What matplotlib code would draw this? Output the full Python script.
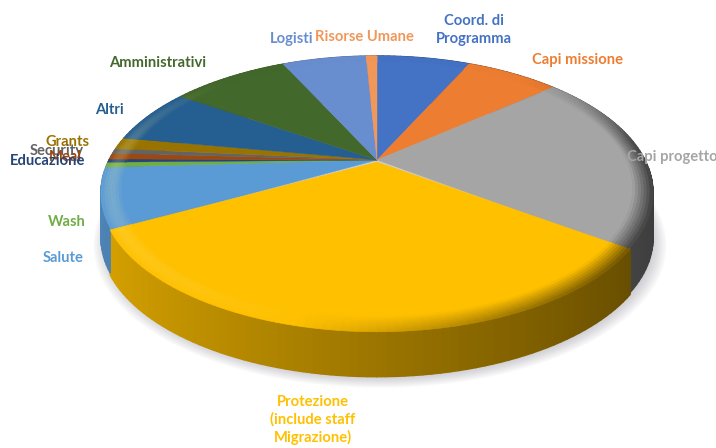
import numpy as np
import matplotlib
matplotlib.use("Agg")
import matplotlib.pyplot as plt
from matplotlib.collections import PolyCollection
from matplotlib.colors import to_rgb

plt.rcParams["font.family"] = ["Lato", "DejaVu Sans"]

# slice shares, clockwise from twelve o'clock
categories = [
    "Coord. di\nProgramma", "Capi missione", "Capi progetto",
    "Protezione\n(include staff\nMigrazione)", "Salute", "Wash", "Educazione",
    "Meal", "Security", "Grants", "Altri", "Amministrativi", "Logisti",
    "Risorse Umane",
]
shares = [6.9, 6.85, 21.2, 32.4, 6.9, 0.6, 0.4, 0.7, 0.6, 1.4, 6.6, 8.6, 6.2, 0.8]
colors = [
    "#4472C4", "#ED7D31", "#A5A5A5", "#FFC000", "#5B9BD5", "#70AD47", "#264478",
    "#9E480E", "#636363", "#997300", "#255E91", "#43682B", "#698ED0", "#F1975A",
]
label_x = [474, 577, 672, 313, 63, 67, 48, 65, 57, 67, 109, 158, 292, 364]
label_y = [30, 60, 157, 420, 258, 222, 161, 157, 151, 142, 110, 63, 39, 37]
draw_order = [9, 8, 7, 6, 5, 4, 3, 2, 1, 0, 10, 11, 12, 13]

CX, CY = 377, 160
RX, RY, K = 268, 129, 0.24
DEPTH = 45
BIG_SLICE = 3


def project(r, angle, dy=0):
    u = r * np.sin(angle)
    v = r * np.cos(angle)
    s = 1 / (1 + K * v)
    return CX + RX * u * s, CY - RY * v * s + dy


def mix(color, target, amount):
    return tuple(c + (t - c) * amount for c, t in zip(color, target))


figure, axes = plt.subplots(figsize=(7.16, 4.48), dpi=100)
figure.subplots_adjust(0, 0, 1, 1)
axes.set_xlim(0, 716)
axes.set_ylim(448, 0)
axes.axis("off")

edges = np.radians(np.concatenate([[0], np.cumsum(shares)]) / sum(shares) * 360)

# soft shadow under the pie
full = np.linspace(0, 2 * np.pi, 240)
for grow in np.linspace(1.035, 0.99, 10):
    x, y = project(grow, full, dy=DEPTH + 5)
    axes.fill(x + 3, y, color="#707080", alpha=0.035, lw=0, zorder=1)

# outer wall
walls, wall_colors = [], []
for i, color in enumerate(colors):
    base = to_rgb(color)
    shift = 2 if i == BIG_SLICE else 0
    steps = max(2, int(np.degrees(edges[i + 1] - edges[i]) / 1.5))
    a = np.linspace(edges[i], edges[i + 1], steps + 1)
    x, y = project(1, a, dy=shift)
    for j in range(steps):
        u = np.sin((a[j] + a[j + 1]) / 2)
        factor = 0.61 - 0.25 * u
        walls.append([
            (x[j], y[j]), (x[j + 1], y[j + 1]),
            (x[j + 1], y[j + 1] + DEPTH), (x[j], y[j] + DEPTH),
        ])
        wall_colors.append(tuple(c * factor for c in base))
axes.add_collection(PolyCollection(
    walls, facecolors=wall_colors, edgecolors=wall_colors, linewidths=1.0, zorder=2
))

# top face with a bevelled rim; the big slice sits a bit forward so goes last
for i in [k for k in range(len(colors)) if k != BIG_SLICE] + [BIG_SLICE]:
    base = to_rgb(colors[i])
    shift = 2 if i == BIG_SLICE else 0
    # neighbours of the big slice run under it so no gap shows
    pad_start = 0.02 if i == BIG_SLICE + 1 else 0
    pad_end = 0.02 if i == BIG_SLICE - 1 else 0
    steps = max(2, int(np.degrees(edges[i + 1] - edges[i]) / 1.5))
    a = np.linspace(edges[i] - pad_start, edges[i + 1] + pad_end, steps + 1)
    x, y = project(0.94, a, dy=shift)
    axes.fill(
        np.r_[CX, x], np.r_[CY + shift, y],
        color=colors[i], lw=0.3, zorder=3 + (i == BIG_SLICE),
    )
    polys, poly_colors = [], []
    radii = np.linspace(0.93, 1, 8)
    for r0, r1 in zip(radii[:-1], radii[1:]):
        x0, y0 = project(r0, a, dy=shift)
        x1, y1 = project(r1, a, dy=shift)
        t = ((r0 + r1) / 2 - 0.93) / 0.07
        for j in range(len(a) - 1):
            mid = (a[j] + a[j + 1]) / 2
            # the bevel fades out towards the back of the pie
            fade = np.clip((0.75 - np.cos(mid)) / 0.6, 0, 1)
            shade = (0.6 * np.sin(mid) - 0.15 * np.cos(mid)) * fade
            if shade > 0:
                col = mix(base, (0, 0, 0), t * shade)
            else:
                col = mix(base, (1, 1, 0.7), np.sin(t * np.pi) * -shade * 0.3)
            polys.append([(x0[j], y0[j]), (x0[j + 1], y0[j + 1]), (x1[j + 1], y1[j + 1]), (x1[j], y1[j])])
            poly_colors.append(col)
    axes.add_collection(PolyCollection(
        polys, facecolors=poly_colors, edgecolors=poly_colors, linewidths=0.5,
        zorder=3 + (i == BIG_SLICE),
    ))

for i in draw_order:
    axes.text(
        label_x[i], label_y[i], categories[i], color=colors[i], fontsize=10.6,
        fontweight="bold", ha="center", va="center", linespacing=1.3, zorder=6,
    )

figure.savefig("out.png", dpi=100)
plt.close(figure)
